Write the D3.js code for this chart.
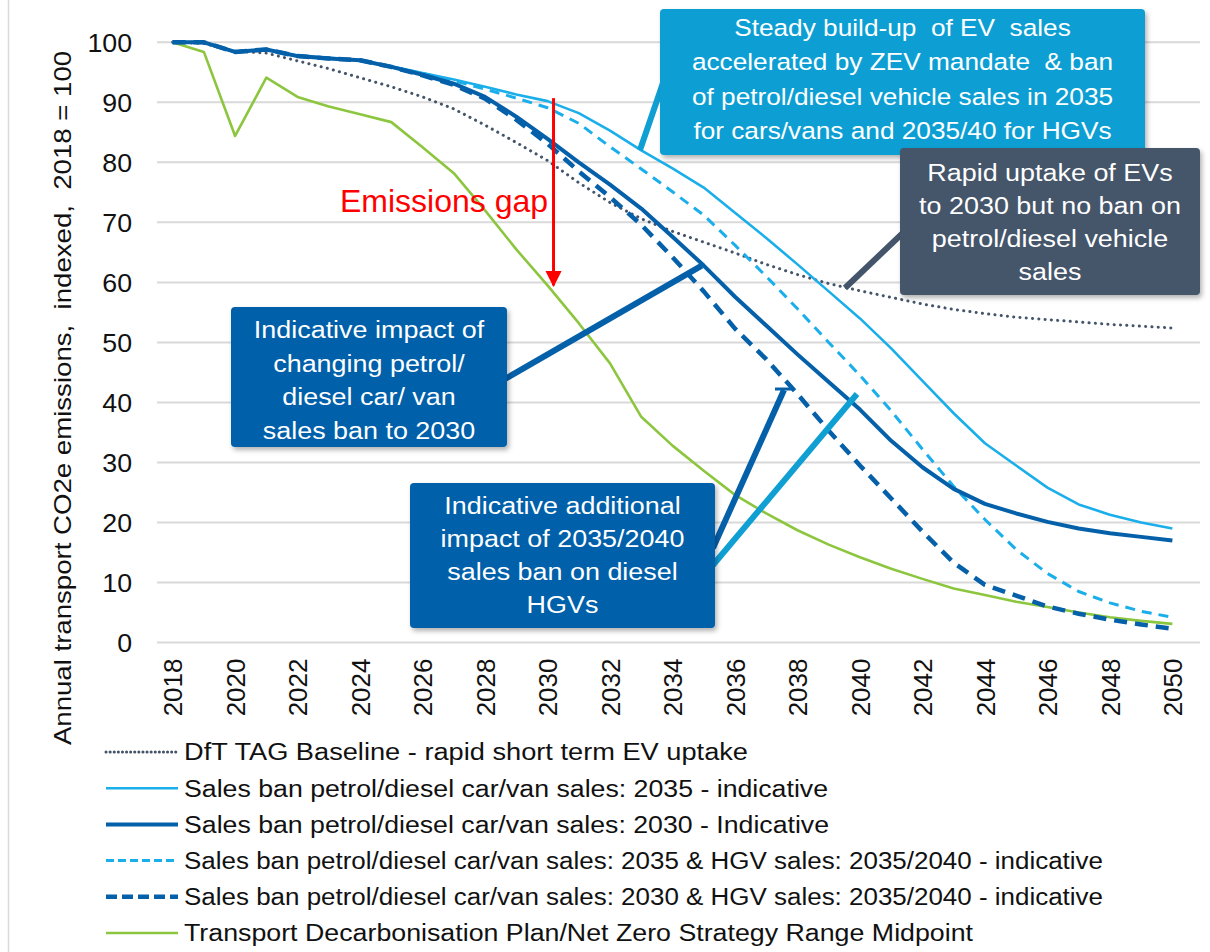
<!DOCTYPE html>
<html>
<head>
<meta charset="utf-8">
<script src="https://cdn.jsdelivr.net/npm/d3@7"></script>
<style>
  html, body { margin: 0; padding: 0; background: #fff; }
  svg { display: block; font-family: "Liberation Sans", Arial, sans-serif; }
</style>
</head>
<body>
<svg id="chart" width="1210" height="952"></svg>
<script>
// Years on the category axis
const years = [2018, 2019, 2020, 2021, 2022, 2023, 2024, 2025, 2026, 2027, 2028,
  2029, 2030, 2031, 2032, 2033, 2034, 2035, 2036, 2037, 2038, 2039, 2040,
  2041, 2042, 2043, 2044, 2045, 2046, 2047, 2048, 2049, 2050];

// Annual transport CO2e emissions, indexed 2018 = 100
const baseline = [100, 99.8, 98.5, 98.2, 96.9, 95.6, 94.1, 92.6, 90.9, 88.9, 86.2,
  83.3, 80.3, 76.6, 73.3, 70.6, 68.5, 66.7, 64.9, 63.0, 61.3, 59.8, 58.6,
  57.5, 56.4, 55.5, 54.8, 54.2, 53.8, 53.4, 53.0, 52.7, 52.4];
const ban2035 = [100, 100, 98.4, 98.8, 97.8, 97.4, 97.0, 96.0, 94.9, 93.8, 92.6,
  91.3, 90.2, 88.2, 85.3, 82.0, 79.0, 75.8, 71.6, 67.4, 63.0, 58.5, 54.0,
  49.0, 43.6, 38.2, 33.2, 29.5, 25.8, 23.0, 21.3, 20.0, 19.0];
const ban2030 = [100, 100, 98.4, 98.8, 97.7, 97.3, 97.0, 95.9, 94.6, 93.1, 90.9,
  87.6, 83.9, 80.0, 76.3, 72.3, 67.6, 62.8, 57.6, 52.8, 48.0, 43.4, 38.8,
  33.6, 29.2, 25.6, 23.1, 21.5, 20.1, 19.0, 18.2, 17.6, 17.0];
const ban2035Hgv = [100, 100, 98.4, 98.8, 97.7, 97.3, 97.0, 95.9, 94.8, 93.6, 92.2,
  90.7, 89.1, 86.5, 82.6, 78.9, 75.1, 71.2, 66.2, 61.0, 55.6, 50.0, 44.5,
  38.6, 32.2, 26.0, 20.5, 15.5, 11.5, 8.5, 6.6, 5.2, 4.2];
const ban2030Hgv = [100, 100, 98.4, 98.8, 97.7, 97.3, 97.0, 95.9, 94.5, 92.9, 90.6,
  87.1, 83.1, 78.5, 74.2, 69.6, 64.2, 58.5, 52.3, 47.2, 41.4, 35.3, 29.5,
  24.0, 18.5, 13.3, 9.6, 7.8, 6.0, 4.8, 3.8, 3.0, 2.3];
const tdpMidpoint = [100, 98.4, 84.4, 94.1, 90.9, 89.3, 88.0, 86.7, 82.5, 78.2, 72.0,
  65.5, 59.5, 53.2, 46.5, 37.6, 32.8, 28.6, 24.6, 21.5, 18.7, 16.3, 14.2,
  12.3, 10.6, 9.0, 7.9, 6.8, 5.9, 5.0, 4.2, 3.6, 3.1];

const yTicks = [0, 10, 20, 30, 40, 50, 60, 70, 80, 90, 100];
const xTickYears = [2018, 2020, 2022, 2024, 2026, 2028, 2030, 2032, 2034, 2036,
  2038, 2040, 2042, 2044, 2046, 2048, 2050];

const seriesNames = [
  "DfT TAG Baseline - rapid short term EV uptake",
  "Sales ban petrol/diesel car/van sales: 2035 - indicative",
  "Sales ban petrol/diesel car/van sales: 2030 - Indicative",
  "Sales ban petrol/diesel car/van sales: 2035 & HGV sales: 2035/2040 - indicative",
  "Sales ban petrol/diesel car/van sales: 2030 & HGV sales: 2035/2040 - indicative",
  "Transport Decarbonisation Plan/Net Zero Strategy Range Midpoint"
];

const C_LIGHT = "#1aaeea";
const C_DARK = "#0560aa";
const C_GREEN = "#8cc63f";
const C_GREY = "#44546a";

const seriesStyles = [
  { values: baseline,   color: C_GREY,  width: 3,   dash: "0.1 6.2", cap: "round", legendLen: 564 },
  { values: ban2035,    color: C_LIGHT, width: 2.6, dash: null,      cap: "butt",  legendLen: 644 },
  { values: ban2030,    color: C_DARK,  width: 4,   dash: null,      cap: "butt",  legendLen: 645 },
  { values: ban2035Hgv, color: C_LIGHT, width: 3,   dash: "10 7",    cap: "butt",  legendLen: 919 },
  { values: ban2030Hgv, color: C_DARK,  width: 4.5, dash: "13 8",    cap: "butt",  legendLen: 919 },
  { values: tdpMidpoint,color: C_GREEN, width: 2.6, dash: null,      cap: "butt",  legendLen: 789 }
];

const svg = d3.select("#chart");
const FONT = "'Liberation Sans', Arial, sans-serif";

// Widen glyphs slightly so the text runs match the wider Arial rendering
function widen(sel, factor) {
  sel.each(function () {
    const len = this.getComputedTextLength();
    d3.select(this).attr("textLength", len * factor).attr("lengthAdjust", "spacingAndGlyphs");
  });
}

// Plot area
const plotLeft = 157, plotRight = 1188, plotTop = 42.3, plotBottom = 642.5;

const x = d3.scalePoint().domain(years).range([plotLeft, plotRight]).padding(0.5);
const y = d3.scaleLinear().domain([0, 100]).range([plotBottom, plotTop]);

// Left frame edge
svg.append("line").attr("x1", 8.5).attr("x2", 8.5).attr("y1", 0).attr("y2", 952)
  .attr("stroke", "#d9d9d9").attr("stroke-width", 1.5);

// Horizontal gridlines
svg.append("g").selectAll("line").data(yTicks).join("line")
  .attr("x1", plotLeft).attr("x2", 1200)
  .attr("y1", d => y(d)).attr("y2", d => y(d))
  .attr("stroke", "#d9d9d9").attr("stroke-width", 2);

// Y axis labels
const yAxis = d3.axisLeft(y).tickValues(yTicks).tickSize(0).tickPadding(0);
const gy = svg.append("g").attr("transform", `translate(${plotLeft - 25},0)`).call(yAxis);
gy.select(".domain").remove();
gy.selectAll("text").attr("font-size", 25).attr("font-family", FONT).attr("fill", "#111")
  .attr("dy", "0.36em");
widen(gy.selectAll("text"), 1.07);

// X axis labels (rotated)
const xAxis = d3.axisBottom(x).tickValues(xTickYears).tickSize(0).tickPadding(0);
const gx = svg.append("g").attr("transform", `translate(0,${plotBottom})`).call(xAxis);
gx.select(".domain").remove();
gx.selectAll("text")
  .attr("font-size", 26).attr("font-family", FONT).attr("fill", "#111")
  .attr("text-anchor", "end")
  .attr("transform", "rotate(-90)")
  .attr("x", -16).attr("y", 0).attr("dy", "0.36em");

// Y axis title
const yTitle = svg.append("text")
  .attr("transform", `translate(71,398) rotate(-90)`)
  .attr("text-anchor", "middle").attr("font-size", 24).attr("font-family", FONT)
  .attr("fill", "#111").attr("xml:space", "preserve")
  .text("Annual transport CO2e emissions,  indexed,  2018 = 100");
widen(yTitle, 1.15);

// Series lines
const line = d3.line().x((d, i) => x(years[i])).y(d => y(d));
const drawOrder = [5, 0, 1, 3, 2, 4];
svg.append("g").selectAll("path").data(drawOrder.map(i => seriesStyles[i])).join("path")
  .attr("d", s => line(s.values))
  .attr("fill", "none")
  .attr("stroke", s => s.color)
  .attr("stroke-width", s => s.width)
  .attr("stroke-dasharray", s => s.dash)
  .attr("stroke-linecap", s => s.cap)
  .attr("stroke-linejoin", "round");

// Emissions gap arrow between 2035 ban and TDP midpoint in 2030
const defs = svg.append("defs");
defs.append("marker").attr("id", "arrowRed")
  .attr("viewBox", "0 0 10 10").attr("refX", 9).attr("refY", 5)
  .attr("markerWidth", 5.5).attr("markerHeight", 5.5).attr("markerUnits", "strokeWidth")
  .attr("orient", "auto")
  .append("path").attr("d", "M0,0 L10,5 L0,10 Z").attr("fill", "#ff0000");

const gapX = x(2030) + 6;
svg.append("line")
  .attr("x1", gapX).attr("x2", gapX)
  .attr("y1", y(ban2035[years.indexOf(2030)]) - 3)
  .attr("y2", y(tdpMidpoint[years.indexOf(2030)]))
  .attr("stroke", "#ff0000").attr("stroke-width", 3)
  .attr("marker-end", "url(#arrowRed)");

svg.append("text").attr("x", 340).attr("y", 212)
  .attr("font-size", 32).attr("font-family", FONT).attr("fill", "#ff0000")
  .text("Emissions gap");

// Drop shadow for callouts
const shadow = defs.append("filter").attr("id", "shadow")
  .attr("x", "-10%").attr("y", "-10%").attr("width", "130%").attr("height", "130%");
shadow.append("feDropShadow").attr("dx", 2).attr("dy", 3).attr("stdDeviation", 2.5)
  .attr("flood-color", "#000").attr("flood-opacity", 0.3);

function pointer(x1, y1, x2, y2, color, w) {
  svg.append("line").attr("x1", x1).attr("y1", y1).attr("x2", x2).attr("y2", y2)
    .attr("stroke", color).attr("stroke-width", w);
}

function callout(bx, by, bw, bh, fill, lines, fs, lh, firstY, factor) {
  const g = svg.append("g");
  g.append("rect").attr("x", bx).attr("y", by).attr("width", bw).attr("height", bh)
    .attr("rx", 4).attr("fill", fill).attr("filter", "url(#shadow)");
  const t = g.selectAll("text").data(lines).join("text")
    .attr("x", bx + bw / 2).attr("y", (d, i) => firstY + i * lh)
    .attr("text-anchor", "middle").attr("font-size", fs).attr("font-family", FONT)
    .attr("fill", "#fff").attr("xml:space", "preserve")
    .text(d => d);
  widen(t, factor);
}

// Pointers (drawn under boxes)
const C_CALL_LIGHT = "#0f9fd3";
pointer(664, 80, 640, 150, C_CALL_LIGHT, 6);
pointer(906, 230, 845, 288, C_GREY, 6);
pointer(505, 379, x(2035) - 2, y(ban2030[years.indexOf(2035)]), C_DARK, 6);
pointer(713, 548, 784, 390, C_DARK, 6);
pointer(775, 389, 792, 389, C_DARK, 3);
pointer(713, 565, 857, 394, C_CALL_LIGHT, 6);

callout(660, 9, 485, 146, C_CALL_LIGHT, [
  "Steady build-up  of EV  sales",
  "accelerated by ZEV mandate  & ban",
  "of petrol/diesel vehicle sales in 2035",
  "for cars/vans and 2035/40 for HGVs"
], 24.5, 34.3, 36, 1.07);

callout(900, 148, 300, 147, C_GREY, [
  "Rapid uptake of EVs",
  "to 2030 but no ban on",
  "petrol/diesel vehicle",
  "sales"
], 23, 33, 181, 1.17);

callout(231, 307, 276, 140, C_DARK, [
  "Indicative impact of",
  "changing petrol/",
  "diesel car/ van",
  "sales ban to 2030"
], 23, 33.5, 338, 1.17);

callout(410, 483, 305, 145, C_DARK, [
  "Indicative additional",
  "impact of 2035/2040",
  "sales ban on diesel",
  "HGVs"
], 23, 33, 514, 1.17);

// Legend
const legend = svg.append("g");
const legendRows = legend.selectAll("g").data(seriesStyles).join("g")
  .attr("transform", (d, i) => `translate(0,${752 + i * 36.2})`);
legendRows.append("line")
  .attr("x1", 106).attr("x2", 178).attr("y1", 0).attr("y2", 0)
  .attr("stroke", d => d.color)
  .attr("stroke-width", d => d.width)
  .attr("stroke-dasharray", (d, i) => i === 0 ? "0.1 4" : (d.dash ? (i === 4 ? "11 5" : "8 4") : null))
  .attr("stroke-linecap", d => d.cap);
legendRows.append("text")
  .attr("x", 184).attr("y", 0).attr("dy", "0.36em")
  .attr("font-size", 23.5).attr("font-family", FONT).attr("fill", "#111")
  .attr("textLength", d => d.legendLen).attr("lengthAdjust", "spacingAndGlyphs")
  .text((d, i) => seriesNames[i]);
</script>
</body>
</html>
